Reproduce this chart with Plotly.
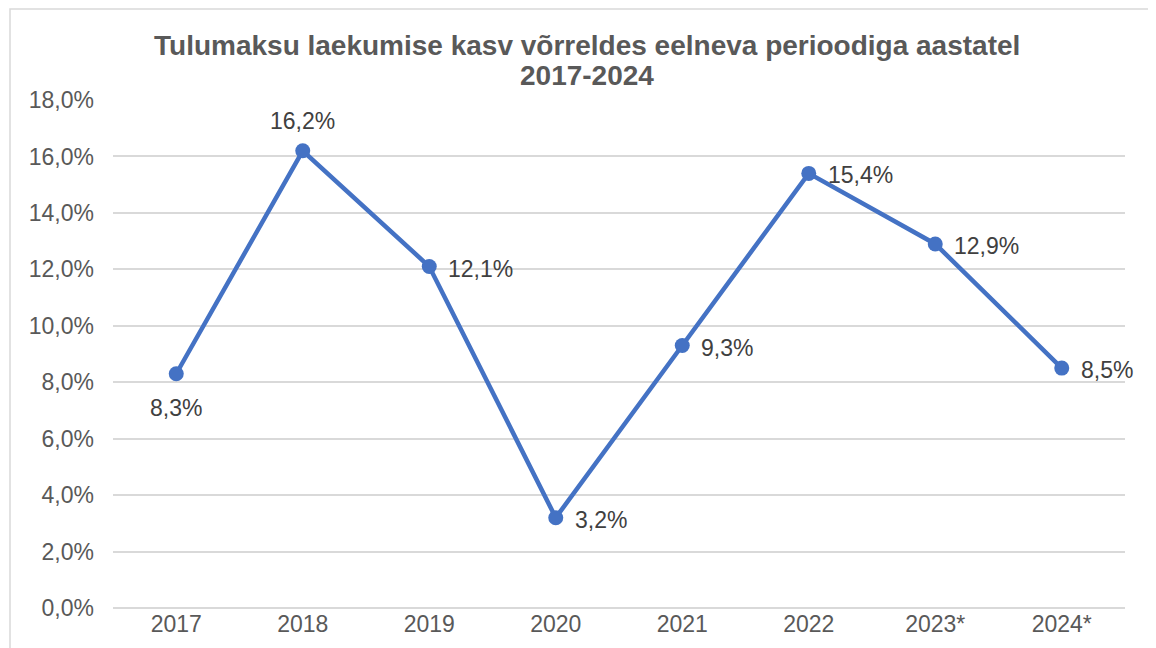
import plotly.graph_objects as go

years = ["2017", "2018", "2019", "2020", "2021", "2022", "2023*", "2024*"]
growth = [8.3, 16.2, 12.1, 3.2, 9.3, 15.4, 12.9, 8.5]
label_side = ["below", "above", "right", "right", "right", "right", "right", "right"]
y_ticks = [0, 2, 4, 6, 8, 10, 12, 14, 16, 18]

labels = [f"{v:.1f}%".replace(".", ",") for v in growth]
tick_text = [f"{v:.1f}%".replace(".", ",") for v in y_ticks]

FONT = "Liberation Sans, Arial"

fig = go.Figure()
fig.add_trace(go.Scatter(
    x=years, y=growth,
    mode="lines+markers",
    line=dict(color="#4472C4", width=4.5),
    marker=dict(color="#4472C4", size=15),
    cliponaxis=False,
    showlegend=False,
))

# data labels (x given as category index, "2017" would be read as a number)
for i, (y, t, side) in enumerate(zip(growth, labels, label_side)):
    if side == "below":
        kw = dict(xanchor="center", yanchor="middle", yshift=-34)
    elif side == "above":
        kw = dict(xanchor="center", yanchor="middle", yshift=30)
    else:
        kw = dict(xanchor="left", yanchor="middle", xshift=17, yshift=-2)
    fig.add_annotation(x=i, y=y, text=t, showarrow=False,
                       font=dict(family=FONT, size=23, color="#404040"), **kw)

# title, two lines (tight Excel-like spacing)
title_font = dict(family=FONT, size=28, color="#595959")
fig.add_annotation(xref="paper", yref="paper", x=0.468, y=1.108,
                   text="<b>Tulumaksu laekumise kasv võrreldes eelneva perioodiga aastatel</b>",
                   showarrow=False, xanchor="center", yanchor="middle", font=title_font)
fig.add_annotation(xref="paper", yref="paper", x=0.468, y=1.049,
                   text="<b>2017-2024</b>",
                   showarrow=False, xanchor="center", yanchor="middle", font=title_font)

fig.update_layout(
    width=1156, height=648,
    margin=dict(l=105, r=39, t=92, b=48),
    paper_bgcolor="white", plot_bgcolor="white",
    font=dict(family=FONT, color="#595959"),
    xaxis=dict(
        type="category", range=[-0.5, 7.5],
        showgrid=False, showline=False, ticks="",
        tickfont=dict(size=23, color="#595959"),
    ),
    yaxis=dict(
        range=[0, 18], tickvals=y_ticks, ticktext=tick_text,
        showgrid=True, gridcolor="#D9D9D9", gridwidth=1.5,
        zeroline=True, zerolinecolor="#D9D9D9", zerolinewidth=1.5,
        showline=False, ticks="", ticklabelstandoff=18,
        tickfont=dict(size=23, color="#595959"),
    ),
)

# chart border (Excel style frame)
fig.add_shape(type="rect", xref="paper", yref="paper",
              x0=(2 - 105) / 1012, x1=1.1, y0=-0.2, y1=(600 - 1) / 508,
              line=dict(color="#D9D9D9", width=1.5), fillcolor="rgba(0,0,0,0)",
              layer="below")

fig.write_html("out.html")
